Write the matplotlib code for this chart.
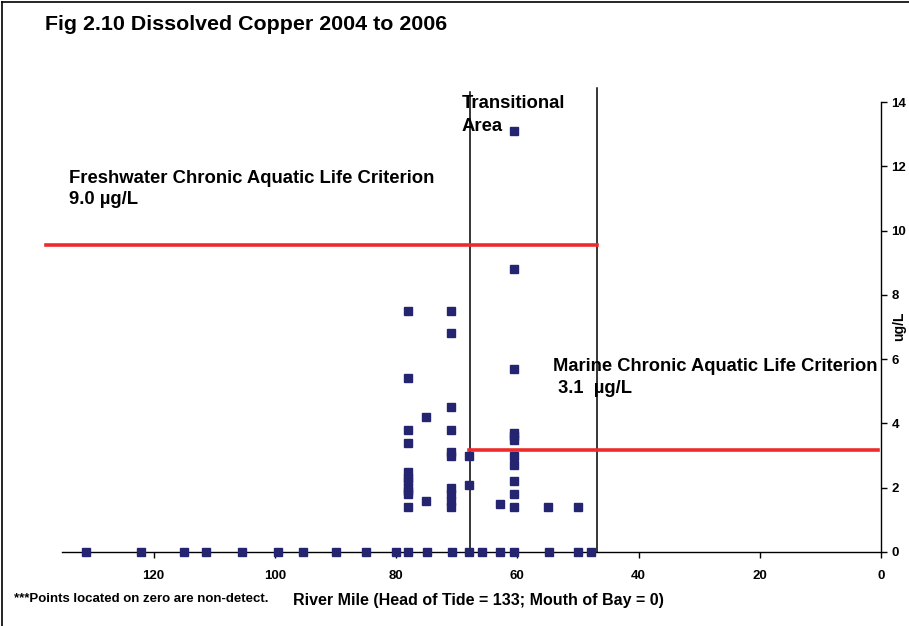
import numpy as np
import matplotlib.pyplot as plt
from matplotlib.lines import Line2D

plt.rcParams["font.family"] = ["Liberation Sans", "DejaVu Sans"]
plt.rcParams["font.weight"] = "bold"

# non-detects plotted on zero
nd_mile = [131.1, 122.0, 115.0, 111.4, 105.4, 99.5, 95.4, 89.9, 85.0, 80.0,
           78.1, 74.9, 70.8, 68.0, 65.9, 62.9, 60.5, 54.8, 49.9, 47.9]

# detected samples (river mile, ug/L)
det_mile = ([78.0] * 11 + [75.0] * 2 + [71.0] * 10 + [68.0] * 2 + [62.9]
            + [60.5] * 11 + [54.9, 49.9])
det_cu = [7.5, 5.4, 3.8, 3.4, 2.5, 2.3, 2.2, 2.0, 1.9, 1.8, 1.4,
          4.2, 1.6,
          7.5, 6.8, 4.5, 3.8, 3.1, 3.0, 2.0, 1.8, 1.6, 1.4,
          3.0, 2.1,
          1.5,
          13.1, 8.8, 5.7, 3.7, 3.6, 3.5, 3.0, 2.7, 2.2, 1.8, 1.4,
          1.4, 1.4]

fresh_crit = 9.55
fresh_span = (137.7, 46.9)
marine_crit = 3.18
marine_span = (67.9, 0.5)
trans_bounds = [(67.8, 14.3), (46.9, 14.45)]

fig = plt.figure(figsize=(9.09, 6.26), dpi=100)
ax = fig.add_axes([62 / 909, 1 - 552 / 626, (881 - 62) / 909, (552 - 102) / 626])

mk = dict(marker="s", ms=5.5, ls="none", color="#242470", clip_on=False, zorder=4)
ax.plot(nd_mile, np.zeros(len(nd_mile)), **mk)
ax.plot(det_mile, det_cu, **mk)

ax.plot(fresh_span, [fresh_crit] * 2, c="#ee2b2b", lw=2.6, clip_on=False, zorder=3)
ax.plot(marine_span, [marine_crit] * 2, c="#ee2b2b", lw=2.6, clip_on=False, zorder=3)
for xm, ytop in trans_bounds:
    ax.plot([xm, xm], [0, ytop], c="black", lw=1.1, clip_on=False, zorder=2)

ax.set_xlim(135.1, 0)
ax.set_ylim(0, 14)
ax.set_xticks(np.arange(0, 121, 20))
ax.set_yticks(np.arange(0, 15, 2))
ax.yaxis.tick_right()
for s in ["top", "left"]:
    ax.spines[s].set_visible(False)
for s in ["bottom", "right"]:
    ax.spines[s].set_linewidth(1.0)
ax.tick_params(direction="out", length=4, width=1, labelsize=9.5)
ax.tick_params(axis="x", pad=9)
for lab in ax.get_xticklabels() + ax.get_yticklabels():
    lab.set_fontweight("bold")

fig.text(899 / 909, 1 - 326 / 626, "ug/L", fontsize=10, fontweight="bold",
         rotation=90, ha="center", va="center")
fig.text(45 / 909, 1 - 25 / 626, "Fig 2.10 Dissolved Copper 2004 to 2006",
         fontsize=15.4, fontweight="bold", va="center")
fig.text(462 / 909, 1 - 115 / 626, "Transitional\nArea", fontsize=13.3,
         fontweight="bold", va="center", linespacing=1.45)
fig.text(69 / 909, 1 - 189 / 626, "Freshwater Chronic Aquatic Life Criterion\n9.0 µg/L",
         fontsize=13.3, fontweight="bold", va="center", linespacing=1.35)
fig.text(553 / 909, 1 - 377.5 / 626, "Marine Chronic Aquatic Life Criterion\n 3.1  µg/L",
         fontsize=13.2, fontweight="bold", va="center", linespacing=1.4)
fig.text(14 / 909, 1 - 599 / 626, "***Points located on zero are non-detect.",
         fontsize=9.5, fontweight="bold", va="center")
fig.text(478 / 909, 1 - 600 / 626, "River Mile (Head of Tide = 133; Mouth of Bay = 0)",
         fontsize=11.5, fontweight="bold", va="center", ha="center")

# outer frame (top and left edges)
fig.add_artist(Line2D([2 / 909, 2 / 909], [0, 1 - 2 / 626], color="black", lw=1.2))
fig.add_artist(Line2D([2 / 909, 1], [1 - 2 / 626, 1 - 2 / 626], color="black", lw=1.2))

fig.savefig("out.png", dpi=100)
